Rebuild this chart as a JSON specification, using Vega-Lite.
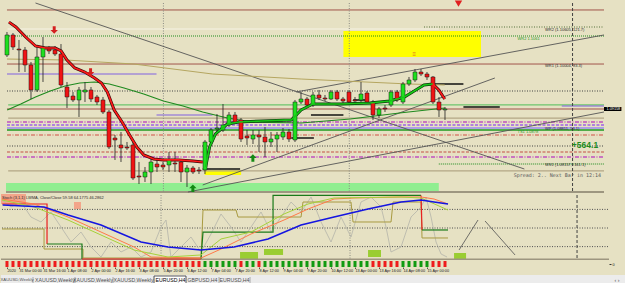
{
"$schema":"https://vega.github.io/schema/vega-lite/v6.json",
"background":"#e6e1c3",
"padding":0,
"autosize":{"type":"pad"},
"config":{"view":{"fill":"#e6e1c3","stroke":null},"font":"Liberation Sans","axis":{"labelFont":"Liberation Sans","grid":false,"title":null,"labelOverlap":false,"labelFlush":false}},
"datasets":{
"candles":[
{"i":0,"o":1.10228,"h":1.10683,"l":1.10188,"c":1.10624},
{"i":1,"o":1.10624,"h":1.10663,"l":1.10327,"c":1.10386},
{"i":2,"o":1.10346,"h":1.10525,"l":1.09891,"c":1.10327},
{"i":3,"o":1.10327,"h":1.10386,"l":1.09891,"c":1.10030},
{"i":4,"o":1.10030,"h":1.10089,"l":1.09356,"c":1.09535},
{"i":5,"o":1.09535,"h":1.10386,"l":1.09495,"c":1.10188},
{"i":6,"o":1.10188,"h":1.10584,"l":1.09693,"c":1.10366},
{"i":7,"o":1.10346,"h":1.10406,"l":1.10247,"c":1.10307},
{"i":8,"o":1.10327,"h":1.10406,"l":1.10208,"c":1.10247},
{"i":9,"o":1.10247,"h":1.10445,"l":1.09594,"c":1.09634},
{"i":10,"o":1.09594,"h":1.09693,"l":1.09178,"c":1.09396},
{"i":11,"o":1.09416,"h":1.09495,"l":1.09297,"c":1.09337},
{"i":12,"o":1.09337,"h":1.09594,"l":1.09000,"c":1.09535},
{"i":13,"o":1.09495,"h":1.09693,"l":1.09297,"c":1.09535},
{"i":14,"o":1.09535,"h":1.09594,"l":1.09297,"c":1.09356},
{"i":15,"o":1.09396,"h":1.09436,"l":1.09238,"c":1.09297},
{"i":16,"o":1.09337,"h":1.09396,"l":1.09059,"c":1.09099},
{"i":17,"o":1.09099,"h":1.09139,"l":1.08366,"c":1.08406},
{"i":18,"o":1.08584,"h":1.08644,"l":1.08149,"c":1.08545},
{"i":19,"o":1.08446,"h":1.08703,"l":1.08109,"c":1.08386},
{"i":20,"o":1.08406,"h":1.08505,"l":1.08347,"c":1.08386},
{"i":21,"o":1.08446,"h":1.08505,"l":1.07753,"c":1.07792},
{"i":22,"o":1.07832,"h":1.08109,"l":1.07673,"c":1.07812},
{"i":23,"o":1.07812,"h":1.08010,"l":1.07713,"c":1.07911},
{"i":24,"o":1.07911,"h":1.08208,"l":1.07673,"c":1.08109},
{"i":25,"o":1.08069,"h":1.08168,"l":1.07911,"c":1.08010},
{"i":26,"o":1.08050,"h":1.08109,"l":1.07951,"c":1.08010},
{"i":27,"o":1.08050,"h":1.08307,"l":1.07911,"c":1.08149},
{"i":28,"o":1.08089,"h":1.08307,"l":1.07911,"c":1.08069},
{"i":29,"o":1.08109,"h":1.08149,"l":1.07713,"c":1.07911},
{"i":30,"o":1.07911,"h":1.08050,"l":1.07614,"c":1.07990},
{"i":31,"o":1.07990,"h":1.08030,"l":1.07871,"c":1.07911},
{"i":32,"o":1.07951,"h":1.08010,"l":1.07871,"c":1.07931},
{"i":33,"o":1.07951,"h":1.08545,"l":1.07871,"c":1.08505},
{"i":34,"o":1.08505,"h":1.08782,"l":1.08465,"c":1.08743},
{"i":35,"o":1.08762,"h":1.09059,"l":1.08683,"c":1.08782},
{"i":36,"o":1.08743,"h":1.09257,"l":1.08703,"c":1.08842},
{"i":37,"o":1.08842,"h":1.09099,"l":1.08802,"c":1.09040},
{"i":38,"o":1.09040,"h":1.09099,"l":1.08861,"c":1.08901},
{"i":39,"o":1.08941,"h":1.08980,"l":1.08505,"c":1.08564},
{"i":40,"o":1.08624,"h":1.08743,"l":1.08446,"c":1.08584},
{"i":41,"o":1.08564,"h":1.08743,"l":1.08465,"c":1.08644},
{"i":42,"o":1.08644,"h":1.08743,"l":1.08307,"c":1.08604},
{"i":43,"o":1.08604,"h":1.08802,"l":1.08208,"c":1.08505},
{"i":44,"o":1.08505,"h":1.08703,"l":1.08406,"c":1.08564},
{"i":45,"o":1.08564,"h":1.08703,"l":1.08307,"c":1.08644},
{"i":46,"o":1.08604,"h":1.08782,"l":1.08545,"c":1.08703},
{"i":47,"o":1.08703,"h":1.08762,"l":1.08505,"c":1.08564},
{"i":48,"o":1.08545,"h":1.09337,"l":1.08505,"c":1.09297},
{"i":49,"o":1.09297,"h":1.09495,"l":1.09257,"c":1.09356},
{"i":50,"o":1.09356,"h":1.09396,"l":1.09198,"c":1.09238},
{"i":51,"o":1.09238,"h":1.09495,"l":1.09198,"c":1.09436},
{"i":52,"o":1.09436,"h":1.09535,"l":1.09337,"c":1.09376},
{"i":53,"o":1.09376,"h":1.09436,"l":1.09317,"c":1.09356},
{"i":54,"o":1.09356,"h":1.09535,"l":1.09337,"c":1.09495},
{"i":55,"o":1.09495,"h":1.09535,"l":1.09317,"c":1.09356},
{"i":56,"o":1.09356,"h":1.09396,"l":1.09277,"c":1.09317},
{"i":57,"o":1.09495,"h":1.09535,"l":1.09257,"c":1.09297},
{"i":58,"o":1.09337,"h":1.09396,"l":1.09297,"c":1.09317},
{"i":59,"o":1.09337,"h":1.09693,"l":1.09297,"c":1.09455},
{"i":60,"o":1.09475,"h":1.09515,"l":1.09257,"c":1.09297},
{"i":61,"o":1.09297,"h":1.09337,"l":1.08941,"c":1.09040},
{"i":62,"o":1.09040,"h":1.09198,"l":1.08980,"c":1.09158},
{"i":63,"o":1.09178,"h":1.09238,"l":1.09099,"c":1.09158},
{"i":64,"o":1.09238,"h":1.09535,"l":1.09198,"c":1.09495},
{"i":65,"o":1.09495,"h":1.09535,"l":1.09297,"c":1.09337},
{"i":66,"o":1.09297,"h":1.09693,"l":1.09257,"c":1.09653},
{"i":67,"o":1.09653,"h":1.09792,"l":1.09614,"c":1.09733},
{"i":68,"o":1.09733,"h":1.09950,"l":1.09693,"c":1.09891},
{"i":69,"o":1.09891,"h":1.09950,"l":1.09812,"c":1.09851},
{"i":70,"o":1.09851,"h":1.09891,"l":1.09733,"c":1.09792},
{"i":71,"o":1.09792,"h":1.09812,"l":1.09257,"c":1.09297},
{"i":72,"o":1.09297,"h":1.09396,"l":1.09000,"c":1.09139},
{"i":73,"o":1.09139,"h":1.09198,"l":1.08941,"c":1.09158}
],
"zones":[
{"a":-0.164,"b":71.97,"p1":1.07693,"p2":1.07515,"k":"band"},
{"a":56.07,"b":79.0,"p1":1.10703,"p2":1.10188,"k":"yellow"},
{"a":32.95,"b":39.02,"p1":1.07951,"p2":1.07852,"k":"yellow"},
{"a":-0.164,"b":99.5,"p1":1.07535,"p2":1.07495,"k":"sep"}
],
"levels":[
{"p":1.11119,"a":0.0,"b":99.5,"k":"brown"},
{"p":1.10742,"a":0.09,"b":71.97,"k":"white"},
{"p":1.10782,"a":69.5,"b":99.5,"k":"wrdot"},
{"p":1.10604,"a":0.0,"b":99.5,"k":"gdot"},
{"p":1.10049,"a":0.0,"b":99.5,"k":"brown"},
{"p":1.09851,"a":0.0,"b":24.92,"k":"purple"},
{"p":1.09515,"a":0.0,"b":99.5,"k":"ddot"},
{"p":1.09238,"a":0.2,"b":99.5,"k":"gthick"},
{"p":1.09218,"a":92.46,"b":99.5,"k":"purple"},
{"p":1.09158,"a":0.0,"b":99.5,"k":"brown"},
{"p":1.09040,"a":24.92,"b":34.26,"k":"purple"},
{"p":1.08980,"a":0.2,"b":99.5,"k":"tthick"},
{"p":1.08901,"a":0.0,"b":99.5,"k":"mdd"},
{"p":1.08842,"a":0.0,"b":99.5,"k":"pdash"},
{"p":1.08782,"a":0.0,"b":99.5,"k":"lav"},
{"p":1.08743,"a":0.0,"b":99.5,"k":"green"},
{"p":1.08644,"a":0.0,"b":99.5,"k":"sdd"},
{"p":1.08426,"a":0.0,"b":99.5,"k":"ddot"},
{"p":1.08307,"a":0.0,"b":99.5,"k":"sdash"},
{"p":1.08208,"a":0.0,"b":99.5,"k":"mdd"},
{"p":1.08069,"a":71.97,"b":99.5,"k":"gdot"},
{"p":1.07931,"a":0.2,"b":99.5,"k":"tthick"},
{"p":1.09653,"a":70.66,"b":76.07,"k":"black"},
{"p":1.09198,"a":76.07,"b":82.13,"k":"black"},
{"p":1.09040,"a":50.66,"b":56.07,"k":"black"},
{"p":1.08584,"a":47.38,"b":51.15,"k":"black"},
{"p":1.07970,"a":32.62,"b":38.85,"k":"black"},
{"p":1.09337,"a":57.7,"b":60.0,"k":"black"}
],
"vlines":[{"x":26.07,"k":"dot"},{"x":57.05,"k":"dot"},{"x":94.26,"k":"dash"}],
"trends":[
{"a":4.75,"p1":1.11257,"b":86.23,"p2":1.07970},
{"a":48.2,"p1":1.09495,"b":99.5,"p2":1.10624},
{"a":32.62,"p1":1.07654,"b":81.31,"p2":1.09772},
{"a":30.16,"p1":1.07515,"b":99.5,"p2":1.09099}
],
"ma":[
{"s":"tan","x":0.0,"p":1.10148},{"s":"tan","x":9.67,"p":1.10129},{"s":"tan","x":21.15,"p":1.10049},{"s":"tan","x":34.26,"p":1.09851},{"s":"tan","x":49.02,"p":1.09752},{"s":"tan","x":67.05,"p":1.09653},{"s":"tan","x":72.95,"p":1.09634},
{"s":"mag","x":0.04,"p":1.09139},{"s":"mag","x":2.30,"p":1.09257},{"s":"mag","x":4.75,"p":1.09396},{"s":"mag","x":7.21,"p":1.09515},{"s":"mag","x":9.67,"p":1.09614},{"s":"mag","x":12.13,"p":1.09673},{"s":"mag","x":14.59,"p":1.09693},{"s":"mag","x":17.05,"p":1.09653},{"s":"mag","x":19.51,"p":1.09574},{"s":"mag","x":22.79,"p":1.09455},{"s":"mag","x":26.07,"p":1.09317},{"s":"mag","x":29.34,"p":1.09218},{"s":"mag","x":32.62,"p":1.09099},{"s":"mag","x":36.72,"p":1.08980},{"s":"mag","x":40.82,"p":1.08901},{"s":"mag","x":49.02,"p":1.08881},{"s":"mag","x":57.21,"p":1.08960},{"s":"mag","x":65.41,"p":1.09079},{"s":"mag","x":72.95,"p":1.09178},
{"s":"r1","x":0.33,"p":1.10879},{"s":"r1","x":1.48,"p":1.10782},{"s":"r1","x":3.11,"p":1.10584},{"s":"r1","x":4.75,"p":1.10406},{"s":"r1","x":6.39,"p":1.10366},{"s":"r1","x":8.03,"p":1.10366},{"s":"r1","x":9.02,"p":1.10307},{"s":"r1","x":10.0,"p":1.10129},{"s":"r1","x":11.31,"p":1.09970},{"s":"r1","x":12.95,"p":1.09891},{"s":"r1","x":14.59,"p":1.09772},{"s":"r1","x":15.74,"p":1.09673},{"s":"r1","x":16.72,"p":1.09495},{"s":"r1","x":17.87,"p":1.09139},{"s":"r1","x":19.18,"p":1.08901},{"s":"r1","x":20.33,"p":1.08664},{"s":"r1","x":21.64,"p":1.08406},{"s":"r1","x":22.79,"p":1.08248},{"s":"r1","x":24.43,"p":1.08168},{"s":"r1","x":26.07,"p":1.08149},{"s":"r1","x":28.52,"p":1.08149},{"s":"r1","x":30.98,"p":1.08129},{"s":"r1","x":32.62,"p":1.08109},
{"s":"g1","x":33.11,"p":1.08010},{"s":"g1","x":33.77,"p":1.08406},{"s":"g1","x":34.75,"p":1.08664},{"s":"g1","x":36.72,"p":1.08861},{"s":"g1","x":38.69,"p":1.08901},{"s":"g1","x":42.46,"p":1.08921},{"s":"g1","x":47.38,"p":1.08941},{"s":"g1","x":49.02,"p":1.09139},{"s":"g1","x":50.98,"p":1.09257},{"s":"g1","x":55.57,"p":1.09257},{"s":"g1","x":60.49,"p":1.09277},{"s":"g1","x":63.77,"p":1.09317},{"s":"g1","x":66.23,"p":1.09396},{"s":"g1","x":67.87,"p":1.09515},{"s":"g1","x":69.51,"p":1.09634},{"s":"g1","x":70.98,"p":1.09653},
{"s":"r2","x":70.98,"p":1.09653},{"s":"r2","x":71.97,"p":1.09535},{"s":"r2","x":72.95,"p":1.09356}
],
"arrows":[
{"x":7.87,"p":1.10723,"d":"down"},
{"x":13.93,"p":1.09891,"d":"down"},
{"x":40.98,"p":1.08188,"d":"up"},
{"x":30.98,"p":1.07590,"d":"up"},
{"x":75.25,"p":1.11245,"d":"tiny"}
],
"notes":[
{"x":89.67,"p":1.10723,"t":"WR2 (1.10605, 121.7)","k":"lab"},
{"x":85.08,"p":1.10544,"t":"WR2 1.1061","k":"glab"},
{"x":89.67,"p":1.10010,"t":"WR1 (1.10004, 83.3)","k":"lab"},
{"x":85.08,"p":1.08703,"t":"TS1 1.0878","k":"glab"},
{"x":89.67,"p":1.08762,"t":"WP (1.08811, 53.1)","k":"lab"},
{"x":89.67,"p":1.08050,"t":"WS1 (1.08157, -161.1)","k":"lab"},
{"x":98.52,"p":1.08446,"t":"+564.1","k":"big"},
{"x":99.0,"p":1.07852,"t":"Spread: 2.. Next Bar in 12:14","k":"mono"},
{"x":67.87,"p":1.10257,"t":"≡","k":"orange"}
],
"pbox":[{"a":99.5,"b":102.4,"p1":1.09198,"p2":1.09119,"p":1.09158,"t":"1.09158"}],
"stlev":[{"v":80},{"v":50},{"v":20}],
"orects":[
{"a":-0.164,"b":3.93,"v1":104.8,"v2":88.7,"k":"salmon"},
{"a":11.8,"b":12.95,"v1":91.9,"v2":80.6,"k":"salmon"},
{"a":39.02,"b":41.97,"v1":11.3,"v2":0,"k":"yg"},
{"a":42.95,"b":46.07,"v1":16.1,"v2":6.5,"k":"yg"},
{"a":60.0,"b":62.13,"v1":14.5,"v2":3.2,"k":"yg"},
{"a":74.1,"b":76.07,"v1":9.7,"v2":0,"k":"yg"},
{"a":-0.164,"b":99.5,"v1":0.8,"v2":-1.61,"k":"sep"}
],
"odiag":[{"a":74.92,"v1":14.5,"b":78.03,"v2":62.9},{"a":79.18,"v1":61.3,"b":84.1,"v2":6.5}],
"olab":[{"x":0.0,"v":98.4,"t":"Stoch (3,1,1) LWMA, Close/Close 59.58 64.1775 46.2862"}],
"osc":[
{"s":"blue","x":0.1,"v":87.1},{"s":"blue","x":6.89,"v":83.9},{"s":"blue","x":10.82,"v":71.0},{"s":"blue","x":16.23,"v":54.8},{"s":"blue","x":22.79,"v":27.4},{"s":"blue","x":27.21,"v":19.4},{"s":"blue","x":32.62,"v":14.5},{"s":"blue","x":38.03,"v":19.4},{"s":"blue","x":43.61,"v":32.3},{"s":"blue","x":49.02,"v":54.8},{"s":"blue","x":54.43,"v":67.7},{"s":"blue","x":60.0,"v":80.6},{"s":"blue","x":65.41,"v":91.9},{"s":"blue","x":68.69,"v":95.2},{"s":"blue","x":70.82,"v":91.9},{"s":"blue","x":73.11,"v":88.7},
{"s":"orange","x":0.0,"v":96.8},{"s":"orange","x":5.25,"v":88.7},{"s":"orange","x":10.82,"v":67.7},{"s":"orange","x":16.23,"v":43.5},{"s":"orange","x":21.64,"v":19.4},{"s":"orange","x":24.43,"v":3.2},{"s":"orange","x":32.62,"v":1.6},{"s":"orange","x":35.9,"v":16.1},{"s":"orange","x":40.82,"v":40.3},{"s":"orange","x":46.23,"v":62.9},{"s":"orange","x":50.16,"v":80.6},{"s":"orange","x":54.43,"v":96.8},{"s":"orange","x":57.7,"v":98.4},{"s":"orange","x":65.41,"v":100},{"s":"orange","x":68.69,"v":100},{"s":"orange","x":70.82,"v":96.8},{"s":"orange","x":73.11,"v":88.7},
{"s":"yg","x":0.0,"v":95.2},{"s":"yg","x":5.25,"v":83.9},{"s":"yg","x":10.82,"v":62.9},{"s":"yg","x":16.23,"v":38.7},{"s":"yg","x":21.64,"v":14.5},{"s":"yg","x":27.21,"v":3.2},{"s":"yg","x":32.62,"v":6.5},{"s":"yg","x":35.9,"v":32.3},{"s":"yg","x":40.82,"v":43.5},{"s":"yg","x":46.23,"v":72.6},{"s":"yg","x":50.16,"v":88.7},{"s":"yg","x":54.43,"v":98.4},{"s":"yg","x":65.41,"v":100},{"s":"yg","x":68.69,"v":98.4},{"s":"yg","x":73.11,"v":79.0},
{"s":"gray","x":0.0,"v":95.2},{"s":"gray","x":1.48,"v":83.9},{"s":"gray","x":3.11,"v":91.9},{"s":"gray","x":4.75,"v":67.7},{"s":"gray","x":6.39,"v":59.7},{"s":"gray","x":8.03,"v":75.8},{"s":"gray","x":9.67,"v":51.6},{"s":"gray","x":11.31,"v":27.4},{"s":"gray","x":12.95,"v":43.5},{"s":"gray","x":14.59,"v":19.4},{"s":"gray","x":16.23,"v":3.2},{"s":"gray","x":17.87,"v":27.4},{"s":"gray","x":19.51,"v":11.3},{"s":"gray","x":21.15,"v":19.4},{"s":"gray","x":22.79,"v":3.2},{"s":"gray","x":24.43,"v":11.3},{"s":"gray","x":26.07,"v":51.6},{"s":"gray","x":26.89,"v":62.9},{"s":"gray","x":27.7,"v":3.2},{"s":"gray","x":29.34,"v":19.4},{"s":"gray","x":30.98,"v":35.5},{"s":"gray","x":32.62,"v":11.3},{"s":"gray","x":34.26,"v":40.3},{"s":"gray","x":35.9,"v":72.6},{"s":"gray","x":37.54,"v":51.6},{"s":"gray","x":39.18,"v":27.4},{"s":"gray","x":40.82,"v":51.6},{"s":"gray","x":42.46,"v":75.8},{"s":"gray","x":44.1,"v":43.5},{"s":"gray","x":45.74,"v":67.7},{"s":"gray","x":47.38,"v":91.9},{"s":"gray","x":49.02,"v":75.8},{"s":"gray","x":50.66,"v":100},{"s":"gray","x":52.3,"v":59.7},{"s":"gray","x":53.93,"v":27.4},{"s":"gray","x":55.57,"v":67.7},{"s":"gray","x":57.21,"v":35.5},{"s":"gray","x":58.85,"v":91.9},{"s":"gray","x":60.49,"v":100},{"s":"gray","x":62.13,"v":83.9},{"s":"gray","x":62.95,"v":51.6},{"s":"gray","x":63.77,"v":11.3},{"s":"gray","x":65.41,"v":19.4},{"s":"gray","x":67.05,"v":67.7},{"s":"gray","x":68.69,"v":83.9},{"s":"gray","x":69.51,"v":100},{"s":"gray","x":70.33,"v":67.7},{"s":"gray","x":71.15,"v":27.4},{"s":"gray","x":71.97,"v":8.1},{"s":"gray","x":72.95,"v":3.2}
],
"steps":[
{"s":"r1","o":0,"x":0.04,"v":88.7},{"s":"r1","o":1,"x":7.38,"v":88.7},{"s":"r1","o":2,"x":7.38,"v":24.2},
{"s":"g1","o":0,"x":7.38,"v":24.2},{"s":"g1","o":1,"x":13.11,"v":24.2},{"s":"g1","o":2,"x":13.11,"v":0},
{"s":"r2","o":0,"x":13.11,"v":0},{"s":"r2","o":1,"x":32.62,"v":0},
{"s":"g2","o":0,"x":32.62,"v":0},{"s":"g2","o":1,"x":32.95,"v":43.5},{"s":"g2","o":2,"x":44.43,"v":43.5},{"s":"g2","o":3,"x":44.43,"v":102.5},{"s":"g2","o":4,"x":68.69,"v":102.5},
{"s":"r3","o":0,"x":68.69,"v":102.5},{"s":"r3","o":1,"x":68.85,"v":46.8},
{"s":"g3","o":0,"x":68.85,"v":46.8},{"s":"g3","o":1,"x":73.11,"v":46.8},
{"s":"olive","o":0,"x":0.0,"v":48.4},{"s":"olive","o":1,"x":6.89,"v":48.4},{"s":"olive","o":2,"x":6.89,"v":16.1},{"s":"olive","o":3,"x":13.28,"v":16.1},{"s":"olive","o":4,"x":13.28,"v":1.6},{"s":"olive","o":5,"x":32.62,"v":1.6},{"s":"olive","o":6,"x":32.95,"v":79.0},{"s":"olive","o":7,"x":38.36,"v":79.0},{"s":"olive","o":8,"x":38.69,"v":67.7},{"s":"olive","o":9,"x":49.02,"v":67.7},{"s":"olive","o":10,"x":49.34,"v":91.9},{"s":"olive","o":11,"x":57.21,"v":91.9},{"s":"olive","o":12,"x":57.54,"v":59.7},{"s":"olive","o":13,"x":63.77,"v":59.7},{"s":"olive","o":14,"x":64.1,"v":91.9},{"s":"olive","o":15,"x":68.69,"v":91.9},{"s":"olive","o":16,"x":68.85,"v":33.9},{"s":"olive","o":17,"x":73.11,"v":33.9}
],
"strip":[
{"i":0,"g":0},{"i":1,"g":0},{"i":2,"g":0},{"i":3,"g":0},{"i":4,"g":0},{"i":5,"g":0},{"i":6,"g":0},{"i":7,"g":0},{"i":8,"g":0},{"i":9,"g":0},
{"i":10,"g":0},{"i":11,"g":0},{"i":12,"g":0},{"i":13,"g":0},{"i":14,"g":0},{"i":15,"g":0},{"i":16,"g":0},{"i":17,"g":0},{"i":18,"g":0},{"i":19,"g":0},
{"i":20,"g":0},{"i":21,"g":0},{"i":22,"g":0},{"i":23,"g":0},{"i":24,"g":0},{"i":25,"g":0},{"i":26,"g":0},{"i":27,"g":0},{"i":28,"g":0},{"i":29,"g":0},
{"i":30,"g":0},{"i":31,"g":0},{"i":32,"g":0},{"i":33,"g":1},{"i":34,"g":1},{"i":35,"g":1},{"i":36,"g":1},{"i":37,"g":1},{"i":38,"g":1},{"i":39,"g":0},
{"i":40,"g":1},{"i":41,"g":1},{"i":42,"g":0},{"i":43,"g":1},{"i":44,"g":1},{"i":45,"g":1},{"i":46,"g":1},{"i":47,"g":1},{"i":48,"g":1},{"i":49,"g":1},
{"i":50,"g":1},{"i":51,"g":1},{"i":52,"g":1},{"i":53,"g":1},{"i":54,"g":1},{"i":55,"g":1},{"i":56,"g":1},{"i":57,"g":1},{"i":58,"g":1},{"i":59,"g":1},
{"i":60,"g":1},{"i":61,"g":0},{"i":62,"g":0},{"i":63,"g":0},{"i":64,"g":0},{"i":65,"g":0},{"i":66,"g":1},{"i":67,"g":1},{"i":68,"g":1},{"i":69,"g":1},
{"i":70,"g":1},{"i":71,"g":0},{"i":72,"g":0},{"i":73,"g":0}
],
"tabs":[
{"t":"XAUUSD,Weekly","a":-12,"b":32,"m":16,"act":3},
{"t":"XAUUSD,Weekly","a":33,"b":74,"m":54,"act":0},
{"t":"XAUUSD,Weekly","a":74,"b":112,"m":92,"act":0},
{"t":"XAUUSD,Weekly","a":112,"b":153,"m":132.5,"act":0},
{"t":"EURUSD,H4","a":153,"b":185,"m":169.5,"act":1},
{"t":"GBPUSD,H4","a":185,"b":218,"m":201.5,"act":0},
{"t":"EURUSD,H4","a":218,"b":249,"m":233.5,"act":0},
{"t":"‹  ›","a":615,"b":615,"m":616,"act":2}
]
},
"spacing":1,
"bounds":"flush",
"vconcat":[
{"width":608,"height":191,
"resolve":{"scale":{"color":"independent","strokeDash":"independent","strokeWidth":"independent","shape":"independent","size":"independent"}},
"layer":[
{"data":{"name":"zones"},"mark":{"type":"rect","clip":true},
"encoding":{
"x":{"field":"a","type":"quantitative","scale":{"domain":[-0.164,99.5],"nice":false,"zero":false},"axis":null},
"x2":{"field":"b"},
"y":{"field":"p1","type":"quantitative","scale":{"domain":[1.07495,1.11277],"nice":false,"zero":false},
"axis":{"orient":"right","values":[1.11,1.1075,1.105,1.1025,1.1,1.0975,1.095,1.0925,1.09,1.0875,1.085,1.0825,1.08,1.0775,1.0753],"format":".5f","labelFontSize":3.8,"labelColor":"#1a1a1a","tickSize":2,"tickColor":"#303030","tickWidth":0.8,"domain":false,"labelPadding":1,"labelFlush":false,"labelOverlap":false,"title":null,"grid":false}},
"y2":{"field":"p2"},
"color":{"field":"k","type":"nominal","scale":{"domain":["band","yellow","sep"],"range":["#90ee90","#ffff00","#9d9680"]},"legend":null}}},
{"data":{"name":"levels"},"mark":{"type":"rule","clip":true},
"encoding":{
"x":{"field":"a","type":"quantitative","axis":null},"x2":{"field":"b"},
"y":{"field":"p","type":"quantitative","axis":null},
"color":{"field":"k","type":"nominal","legend":null,"scale":{"domain":["brown","white","wrdot","gdot","purple","ddot","gthick","tthick","mdd","pdash","lav","green","sdd","sdash","black"],"range":["#a0524a","#f6f3e6","#55703a","#1e8c1e","#8060e0","#404040","#6cc46c","#b3a685","#c050c0","#a060e8","#9a8af0","#1e9a1e","#d88070","#d08070","#111111"]}},
"strokeDash":{"field":"k","type":"nominal","legend":null,"scale":{"domain":["brown","white","wrdot","gdot","purple","ddot","gthick","tthick","mdd","pdash","lav","green","sdd","sdash","black"],"range":[[1,0],[1,0],[1,1.5],[1,1],[1,0],[1,1.5],[1,0],[1,0],[4,1.5,1,1.5],[3,1.5],[1,0],[1,0],[4,1.5,1,1.5],[3,1.5],[1,0]]}},
"strokeWidth":{"field":"k","type":"ordinal","legend":null,"scale":{"domain":["brown","white","wrdot","gdot","purple","ddot","gthick","tthick","mdd","pdash","lav","green","sdd","sdash","black"],"range":[1,1.5,1,1,1,1,2.2,2.2,1,1,1,1,1,1,1.2]}}}},
{"data":{"name":"vlines"},"mark":{"type":"rule","clip":true,"strokeWidth":1},
"encoding":{"x":{"field":"x","type":"quantitative","axis":null},
"y":{"datum":1.11257,"type":"quantitative"},"y2":{"datum":1.07495},
"color":{"field":"k","type":"nominal","legend":null,"scale":{"domain":["dot","dash"],"range":["#8c8c84","#404040"]}},
"strokeDash":{"field":"k","type":"nominal","legend":null,"scale":{"domain":["dot","dash"],"range":[[1,1.5],[3,2]]}}}},
{"mark":{"type":"rule","color":"#303030","strokeWidth":1},
"encoding":{"x":{"datum":99.5,"type":"quantitative"},"y":{"datum":1.11257,"type":"quantitative"},"y2":{"datum":1.07495}}},
{"data":{"name":"trends"},"mark":{"type":"rule","clip":true,"color":"#555555","strokeWidth":0.9},
"encoding":{"x":{"field":"a","type":"quantitative","axis":null},"x2":{"field":"b"},"y":{"field":"p1","type":"quantitative","axis":null},"y2":{"field":"p2"}}},
{"data":{"name":"ma"},"transform":[{"filter":"datum.s=='tan'"}],"mark":{"type":"line","clip":true,"color":"#b5a660","strokeWidth":1},
"encoding":{"x":{"field":"x","type":"quantitative","axis":null},"y":{"field":"p","type":"quantitative","axis":null}}},
{"data":{"name":"ma"},"transform":[{"filter":"datum.s=='mag'"}],"mark":{"type":"line","clip":true,"color":"#1f8a1f","strokeWidth":1.2},
"encoding":{"x":{"field":"x","type":"quantitative","axis":null},"y":{"field":"p","type":"quantitative","axis":null}}},
{"data":{"name":"ma"},"transform":[{"filter":"datum.s=='r1'||datum.s=='g1'||datum.s=='r2'"}],"mark":{"type":"line","clip":true,"strokeWidth":3},
"encoding":{"x":{"field":"x","type":"quantitative","axis":null},"y":{"field":"p","type":"quantitative","axis":null},"detail":{"field":"s"},
"color":{"condition":{"test":"datum.s=='g1'","value":"#0b3d0b"},"value":"#3d0808"}}},
{"data":{"name":"candles"},"mark":{"type":"rule","color":"#202020","strokeWidth":0.8},
"encoding":{"x":{"field":"i","type":"quantitative","axis":null},"y":{"field":"l","type":"quantitative","axis":null},"y2":{"field":"h"}}},
{"data":{"name":"candles"},"mark":{"type":"bar","size":4,"stroke":"#1a1a1a","strokeWidth":0.5,"clip":true},
"encoding":{"x":{"field":"i","type":"quantitative","axis":null},"y":{"field":"o","type":"quantitative","axis":null},"y2":{"field":"c"},
"color":{"condition":{"test":"datum.c>=datum.o","value":"#1ee01e"},"value":"#f01414"}}},
{"data":{"name":"ma"},"transform":[{"filter":"datum.s=='r1'||datum.s=='g1'||datum.s=='r2'"}],"mark":{"type":"line","clip":true,"strokeWidth":1.7},
"encoding":{"x":{"field":"x","type":"quantitative","axis":null},"y":{"field":"p","type":"quantitative","axis":null},"detail":{"field":"s"},
"color":{"condition":{"test":"datum.s=='g1'","value":"#18c818"},"value":"#ff1a1a"}}},
{"data":{"name":"arrows"},"mark":{"type":"point","filled":true,"opacity":1,"strokeWidth":0},
"encoding":{"x":{"field":"x","type":"quantitative","axis":null},"y":{"field":"p","type":"quantitative","axis":null},
"shape":{"field":"d","type":"nominal","legend":null,"scale":{"domain":["down","up","tiny"],"range":["M-0.4,-1L0.4,-1L0.4,0L1,0L0,1L-1,0L-0.4,0Z","M-0.4,1L0.4,1L0.4,0L1,0L0,-1L-1,0L-0.4,0Z","triangle-down"]}},
"color":{"field":"d","type":"nominal","legend":null,"scale":{"domain":["down","up","tiny"],"range":["#d42020","#138a13","#e02020"]}},
"size":{"field":"d","type":"ordinal","legend":null,"scale":{"domain":["down","up","tiny"],"range":[55,55,8]}}}},
{"data":{"name":"notes"},"transform":[{"filter":"datum.k=='lab'"}],"mark":{"type":"text","align":"left","baseline":"middle","fontSize":4,"color":"#2a2a2a"},
"encoding":{"x":{"field":"x","type":"quantitative","axis":null},"y":{"field":"p","type":"quantitative","axis":null},"text":{"field":"t"}}},
{"data":{"name":"notes"},"transform":[{"filter":"datum.k=='glab'"}],"mark":{"type":"text","align":"left","baseline":"middle","fontSize":4,"color":"#2a9a2a"},
"encoding":{"x":{"field":"x","type":"quantitative","axis":null},"y":{"field":"p","type":"quantitative","axis":null},"text":{"field":"t"}}},
{"data":{"name":"notes"},"transform":[{"filter":"datum.k=='big'"}],"mark":{"type":"text","align":"right","baseline":"middle","fontSize":8.5,"fontWeight":"bold","color":"#1e8c1e"},
"encoding":{"x":{"field":"x","type":"quantitative","axis":null},"y":{"field":"p","type":"quantitative","axis":null},"text":{"field":"t"}}},
{"data":{"name":"notes"},"transform":[{"filter":"datum.k=='mono'"}],"mark":{"type":"text","align":"right","baseline":"middle","fontSize":5,"font":"DejaVu Sans Mono","color":"#5a5a5a"},
"encoding":{"x":{"field":"x","type":"quantitative","axis":null},"y":{"field":"p","type":"quantitative","axis":null},"text":{"field":"t"}}},
{"data":{"name":"notes"},"transform":[{"filter":"datum.k=='orange'"}],"mark":{"type":"text","align":"center","baseline":"middle","fontSize":6,"color":"#e07020"},
"encoding":{"x":{"field":"x","type":"quantitative","axis":null},"y":{"field":"p","type":"quantitative","axis":null},"text":{"field":"t"}}},
{"data":{"name":"pbox"},"mark":{"type":"rect","color":"#000000"},
"encoding":{"x":{"field":"a","type":"quantitative","axis":null},"x2":{"field":"b"},"y":{"field":"p1","type":"quantitative","axis":null},"y2":{"field":"p2"}}},
{"data":{"name":"pbox"},"mark":{"type":"text","align":"left","baseline":"middle","fontSize":3.8,"color":"#ffffff","dx":2.5},
"encoding":{"x":{"field":"a","type":"quantitative","axis":null},"y":{"field":"p","type":"quantitative","axis":null},"text":{"field":"t"}}}
]},
{"width":608,"height":66,
"resolve":{"scale":{"color":"independent","strokeDash":"independent"}},
"layer":[
{"data":{"name":"orects"},"mark":{"type":"rect","clip":true},
"encoding":{"x":{"field":"a","type":"quantitative","scale":{"domain":[-0.164,99.5],"nice":false,"zero":false},"axis":null},"x2":{"field":"b"},
"y":{"field":"v1","type":"quantitative","scale":{"domain":[-1.61,104.84],"nice":false,"zero":false},
"axis":{"orient":"right","values":[100,80,50,20,0],"format":"d","labelFontSize":3.8,"labelColor":"#1a1a1a","tickSize":2,"tickColor":"#303030","tickWidth":0.8,"domain":true,"domainColor":"#303030","labelPadding":1,"labelFlush":false,"labelOverlap":false,"title":null,"grid":false}},
"y2":{"field":"v2"},
"color":{"field":"k","type":"nominal","legend":null,"scale":{"domain":["salmon","yg","sep"],"range":["#f3a58a","#9acd32","#9d9680"]}}}},
{"mark":{"type":"rect","color":"#fbfbf6"},
"encoding":{"x":{"datum":-0.164,"type":"quantitative"},"x2":{"datum":99.5},"y":{"datum":-3.22,"type":"quantitative"},"y2":{"datum":-12.6}}},
{"mark":{"type":"rule","color":"#404040","strokeWidth":1},
"encoding":{"x":{"datum":0.0,"type":"quantitative"},"x2":{"datum":99.5},"y":{"datum":-12.6,"type":"quantitative"}}},
{"mark":{"type":"rule","color":"#303030","strokeWidth":1},
"encoding":{"x":{"datum":99.5,"type":"quantitative"},"y":{"datum":-3.22,"type":"quantitative"},"y2":{"datum":-12.6}}},
{"data":{"name":"stlev"},"mark":{"type":"rule","color":"#505050","strokeDash":[1,1.5],"strokeWidth":1},
"encoding":{"y":{"field":"v","type":"quantitative","axis":null},"x":{"datum":0.0,"type":"quantitative"},"x2":{"datum":99.5}}},
{"data":{"name":"vlines"},"mark":{"type":"rule","clip":true,"strokeWidth":1},
"encoding":{"x":{"field":"x","type":"quantitative","axis":null},
"y":{"datum":103.2,"type":"quantitative"},"y2":{"datum":-1.61},
"color":{"field":"k","type":"nominal","legend":null,"scale":{"domain":["dot","dash"],"range":["#8c8c84","#404040"]}},
"strokeDash":{"field":"k","type":"nominal","legend":null,"scale":{"domain":["dot","dash"],"range":[[1,1.5],[3,2]]}}}},
{"data":{"name":"osc"},"transform":[{"filter":"datum.s=='gray'"}],"mark":{"type":"line","clip":true,"color":"#b4b4aa","strokeWidth":0.8},
"encoding":{"x":{"field":"x","type":"quantitative","axis":null},"y":{"field":"v","type":"quantitative","axis":null}}},
{"data":{"name":"steps"},"transform":[{"filter":"datum.s=='olive'"}],"mark":{"type":"line","clip":true,"color":"#a89a40","strokeWidth":1},
"encoding":{"x":{"field":"x","type":"quantitative","axis":null},"y":{"field":"v","type":"quantitative","axis":null},"order":{"field":"o","type":"quantitative"}}},
{"data":{"name":"steps"},"transform":[{"filter":"datum.s!='olive'"}],"mark":{"type":"line","clip":true,"strokeWidth":1.2},
"encoding":{"x":{"field":"x","type":"quantitative","axis":null},"y":{"field":"v","type":"quantitative","axis":null},"order":{"field":"o","type":"quantitative"},"detail":{"field":"s"},
"color":{"condition":{"test":"indexof(datum.s,'r')==0","value":"#e82020"},"value":"#1a7a1a"}}},
{"data":{"name":"osc"},"transform":[{"filter":"datum.s=='orange'"}],"mark":{"type":"line","clip":true,"color":"#ff7a4a","strokeWidth":1},
"encoding":{"x":{"field":"x","type":"quantitative","axis":null},"y":{"field":"v","type":"quantitative","axis":null}}},
{"data":{"name":"osc"},"transform":[{"filter":"datum.s=='yg'"}],"mark":{"type":"line","clip":true,"color":"#a6d13a","strokeWidth":1},
"encoding":{"x":{"field":"x","type":"quantitative","axis":null},"y":{"field":"v","type":"quantitative","axis":null}}},
{"data":{"name":"osc"},"transform":[{"filter":"datum.s=='blue'"}],"mark":{"type":"line","clip":true,"color":"#1515e0","strokeWidth":1.6},
"encoding":{"x":{"field":"x","type":"quantitative","axis":null},"y":{"field":"v","type":"quantitative","axis":null}}},
{"data":{"name":"odiag"},"mark":{"type":"rule","clip":true,"color":"#505050","strokeWidth":0.8},
"encoding":{"x":{"field":"a","type":"quantitative","axis":null},"x2":{"field":"b"},"y":{"field":"v1","type":"quantitative","axis":null},"y2":{"field":"v2"}}},
{"data":{"name":"olab"},"mark":{"type":"text","align":"left","baseline":"middle","fontSize":4,"color":"#2a2a2a"},
"encoding":{"x":{"field":"x","type":"quantitative","axis":null},"y":{"field":"v","type":"quantitative","axis":null},"text":{"field":"t"}}}
]},
{"width":608,"height":13,
"view":{"fill":null,"stroke":null},
"data":{"name":"strip"},
"mark":{"type":"bar","size":3,"clip":true},
"encoding":{
"x":{"field":"i","type":"quantitative","scale":{"domain":[-0.164,99.5],"nice":false,"zero":false},
"axis":{"orient":"bottom","offset":-7,"values":[0,2,6,10,14,18,22,26,30,34,38,42,46,50,54,58,62,66,70],
"labelExpr":"datum.value < 1 ? '2020' : ['31 Mar 00:00','31 Mar 16:00','1 Apr 08:00','2 Apr 00:00','2 Apr 16:00','3 Apr 08:00','5 Apr 20:00','6 Apr 12:00','7 Apr 04:00','7 Apr 20:00','8 Apr 12:00','9 Apr 04:00','9 Apr 20:00','10 Apr 12:00','13 Apr 00:00','13 Apr 16:00','14 Apr 08:00','15 Apr 00:00'][round((datum.value-2)/4)]",
"labelAlign":"left","labelBaseline":"top","labelFontSize":3.8,"labelColor":"#1a1a1a","labelPadding":-0.5,"tickSize":1.5,"tickColor":"#303030","tickWidth":0.8,"domain":false,"labelOverlap":false,"labelFlush":false,"title":null,"grid":false}},
"y":{"datum":-1,"type":"quantitative","scale":{"domain":[-3.333,1],"nice":false,"zero":false},
"axis":{"orient":"right","values":[0],"format":"d","labelFontSize":3.8,"labelColor":"#1a1a1a","tickSize":2,"tickColor":"#303030","domain":false,"labelPadding":1,"title":null,"grid":false}},
"y2":{"datum":1},
"color":{"condition":{"test":"datum.g==1","value":"#119a11"},"value":"#ee1c1c"}}},
{"width":625,"height":10,
"view":{"fill":"#ececec","stroke":null},
"layer":[
{"data":{"name":"tabs"},"transform":[{"filter":"datum.act==1"}],"mark":{"type":"rect","fill":"#ffffff","stroke":"#303030","strokeWidth":0.8},
"encoding":{"x":{"field":"a","type":"quantitative","scale":{"domain":[0,625],"nice":false,"zero":false},"axis":null},"x2":{"field":"b"},
"y":{"datum":0.1,"type":"quantitative","scale":{"domain":[0,1],"nice":false,"zero":false},"axis":null},"y2":{"datum":0.9}}},
{"data":{"name":"tabs"},"transform":[{"filter":"datum.act==0||datum.act==3"}],"mark":{"type":"rule","color":"#9a9a9a","strokeWidth":0.8},
"encoding":{"x":{"field":"b","type":"quantitative","axis":null},"y":{"datum":0.2,"type":"quantitative","axis":null},"y2":{"datum":0.8}}},
{"data":{"name":"tabs"},"transform":[{"filter":"datum.act!=3"}],"mark":{"type":"text","fontSize":5.2,"baseline":"middle"},
"encoding":{"x":{"field":"m","type":"quantitative","axis":null},"y":{"datum":0.5,"type":"quantitative","axis":null},"text":{"field":"t"},
"color":{"condition":{"test":"datum.act==1","value":"#000000"},"value":"#505050"}}},
{"data":{"name":"tabs"},"transform":[{"filter":"datum.act==3"}],"mark":{"type":"text","fontSize":4.3,"baseline":"middle","color":"#505050"},
"encoding":{"x":{"field":"m","type":"quantitative","axis":null},"y":{"datum":0.5,"type":"quantitative","axis":null},"text":{"field":"t"}}}
]}
]
}
